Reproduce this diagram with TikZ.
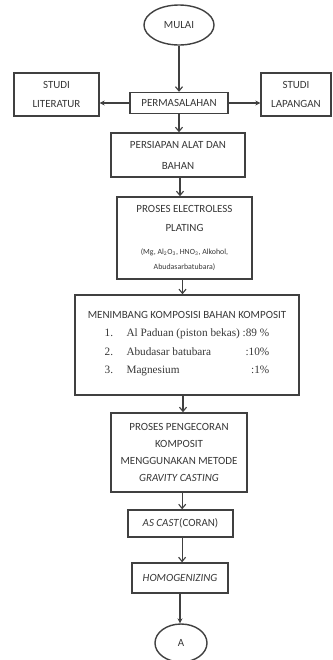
\documentclass[tikz,border=0pt]{standalone}
\usepackage{fontspec}
\setmainfont{Carlito}
\newfontfamily\listfont{Liberation Serif}
\usetikzlibrary{shapes.geometric,arrows.meta}
\definecolor{linegray}{RGB}{64,64,64}
\definecolor{textgray}{RGB}{55,55,55}
\newcommand{\smalltxt}{\fontsize{5.6}{10.5}\selectfont}
\tikzset{
  box/.style={draw=linegray, line width=1pt, text=textgray, align=center, inner sep=0pt, font=\fontsize{7.8}{13}\selectfont},
  term/.style={box, ellipse},
  flow/.style={-{Straight Barb[length=3pt,width=5pt]}, linegray, line width=0.8pt},
  side/.style={-{Stealth[length=3.5pt,width=3.5pt]}, linegray, line width=0.8pt},
}

\begin{document}
\begin{tikzpicture}[x=0.025cm, y=-0.025cm]
      \useasboundingbox (0,0) rectangle (332,660);

      % start
      \node[term, minimum width=1.75cm, minimum height=1cm] (mulai) at (179,25) {MULAI};

      % problem and studies
      \node[box, minimum width=2.45cm, minimum height=0.525cm] (masalah) at (179,103) {PERMASALAHAN};
      \node[box, minimum width=2.125cm, minimum height=1.075cm] (literatur) at (56.5,94.5) {STUDI\\LITERATUR};
      \node[box, minimum width=1.75cm, minimum height=1.075cm] (lapangan) at (296,94.5) {STUDI\\LAPANGAN};

      % preparation
      \node[box, minimum width=3.35cm, minimum height=1.1cm, font=\fontsize{7.8}{15}\selectfont] (persiapan) at (178,155) {PERSIAPAN ALAT DAN\\BAHAN};
      \node[box, minimum width=3.375cm, minimum height=2.05cm, font=\fontsize{7.8}{14}\selectfont] (electroless) at (184.5,238)
        {PROSES ELECTROLESS\\PLATING\\[2pt]{\smalltxt (Mg, Al\textsubscript{2}O\textsubscript{3}, HNO\textsubscript{3}, Alkohol,}\\[-3pt]{\smalltxt Abudasarbatubara)}};

      % composition
      \node[box, minimum width=5.6cm, minimum height=2.5cm] (menimbang) at (187,345)
        {MENIMBANG KOMPOSISI BAHAN KOMPOSIT\\[3pt]
         {\listfont\fontsize{8}{13}\selectfont
          \begin{tabular}{@{}l@{\hspace{9.5pt}}l@{\hspace{2pt}}r@{}}
            1. & Al Paduan (piston bekas) & :89 \%\\
            2. & Abudasar batubara & :10\%\\
            3. & Magnesium & :1\%
          \end{tabular}}};

      % casting
      \node[box, minimum width=3.4cm, minimum height=1.975cm, font=\fontsize{7.8}{12}\selectfont] (pengecoran) at (179,452.5)
        {PROSES PENGECORAN\\KOMPOSIT\\MENGGUNAKAN METODE\\\textit{GRAVITY CASTING}};
      \node[box, minimum width=2.625cm, minimum height=0.675cm] (ascast) at (180.5,523.5) {\textit{AS CAST}(CORAN)};
      \node[box, minimum width=2.4cm, minimum height=0.75cm] (homog) at (180,578) {\textit{HOMOGENIZING}};

      % connector
      \node[term, minimum width=1.3cm, minimum height=0.95cm] (lanjut) at (181,643) {A};

      % arrows
      \draw[flow] (mulai.south) -- (mulai.south |- masalah.north);
      \draw[side] (masalah.west) -- (masalah.west -| literatur.east);
      \draw[side] (masalah.east) -- (masalah.east -| lapangan.west);
      \draw[flow] (masalah.south) -- (masalah.south |- persiapan.north);
      \draw[flow] ([xshift=0.05cm]persiapan.south) -- ([xshift=0.05cm]persiapan.south |- electroless.north);
      \draw[flow] ([xshift=-0.05cm]electroless.south) -- ([xshift=-0.05cm]electroless.south |- menimbang.north);
      \draw[flow] ([xshift=-0.1cm]menimbang.south) -- ([xshift=-0.1cm]menimbang.south |- pengecoran.north);
      \draw[flow] ([xshift=0.08cm]pengecoran.south) -- ([xshift=0.08cm]pengecoran.south |- ascast.north);
      \draw[flow] ([xshift=0.04cm]ascast.south) -- ([xshift=0.04cm]ascast.south |- homog.north);
      \draw[side] (homog.south) -- (homog.south |- lanjut.north);
\end{tikzpicture}
\end{document}
